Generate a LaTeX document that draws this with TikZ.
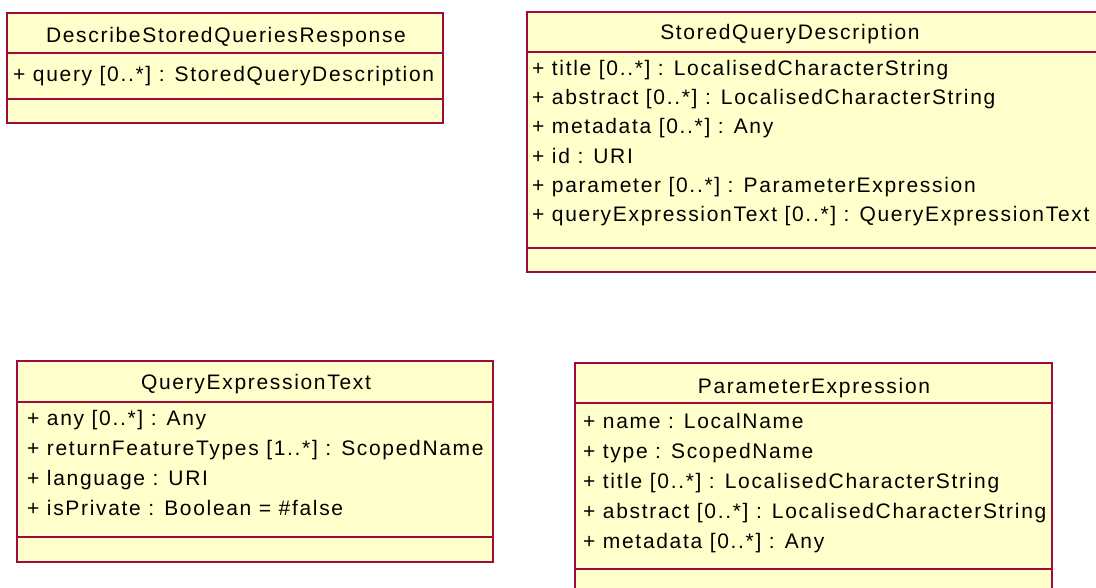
\documentclass[tikz,border=0pt]{standalone}
\usepackage{fontspec}
\setmainfont[LetterSpace=8]{Liberation Sans}
\usepackage{tikz}
\usetikzlibrary{calc}
\definecolor{umlfill}{RGB}{255,255,204}
\definecolor{umlred}{RGB}{160,10,60}

\begin{document}
\begin{tikzpicture}[x=1pt, y=-1pt, font=\fontsize{21}{25}\selectfont,
    classbox/.style={draw=umlred, fill=umlfill, line width=1.5pt},
    sepline/.style={draw=umlred, line width=1.4pt},
    attr/.style={anchor=base west, inner sep=0pt},
    cname/.style={anchor=base, inner sep=0pt}]
  \useasboundingbox (0,0) rectangle (1096,588);
  \clip (0,0) rectangle (1096,588);

  \def\drawClass#1#2#3#4#5#6{
    \draw[classbox] (#1,#2) rectangle (#3,#4);
    \draw[sepline] (#1,#5) -- (#3,#5);
    \draw[sepline] (#1,#6) -- (#3,#6);
  }

  % DescribeStoredQueriesResponse
  \drawClass{7}{13}{443}{123}{53}{99}
  \node[cname] (dsqr) at (226,43) {DescribeStoredQueriesResponse};
  \node[attr] (dsqr-1) at (13,82) {+ query [0..*] : StoredQueryDescription};

  % StoredQueryDescription
  \drawClass{527}{12}{1110}{272}{52}{248}
  \node[cname] (sqd) at (790,40) {StoredQueryDescription};
  \foreach \y/\t [count=\i] in {76/+ title [0..*] : LocalisedCharacterString,
      105/+ abstract [0..*] : LocalisedCharacterString,
      134/+ metadata [0..*] : Any,
      164/+ id : URI,
      193/+ parameter [0..*] : ParameterExpression,
      222/+ queryExpressionText [0..*] : QueryExpressionText} {
    \node[attr] (sqd-\i) at (532,\y) {\t};
  }

  % QueryExpressionText
  \drawClass{17}{361}{493}{562}{402}{537}
  \node[cname] (qet) at (256,389) {QueryExpressionText};
  \foreach \y/\t [count=\i] in {425/+ any [0..*] : Any,
      455/+ returnFeatureTypes [1..*] : ScopedName,
      485/+ language : URI,
      515/+ isPrivate : Boolean = \#false} {
    \node[attr] (qet-\i) at (27,\y) {\t};
  }

  % ParameterExpression
  \drawClass{575}{363}{1052}{600}{403}{569}
  \node[cname] (pe) at (814,393) {ParameterExpression};
  \foreach \y/\t [count=\i] in {428/+ name : LocalName,
      458/+ type : ScopedName,
      488/+ title [0..*] : LocalisedCharacterString,
      518/+ abstract [0..*] : LocalisedCharacterString,
      548/+ metadata [0..*] : Any} {
    \node[attr] (pe-\i) at (583,\y) {\t};
  }
\end{tikzpicture}
\end{document}
